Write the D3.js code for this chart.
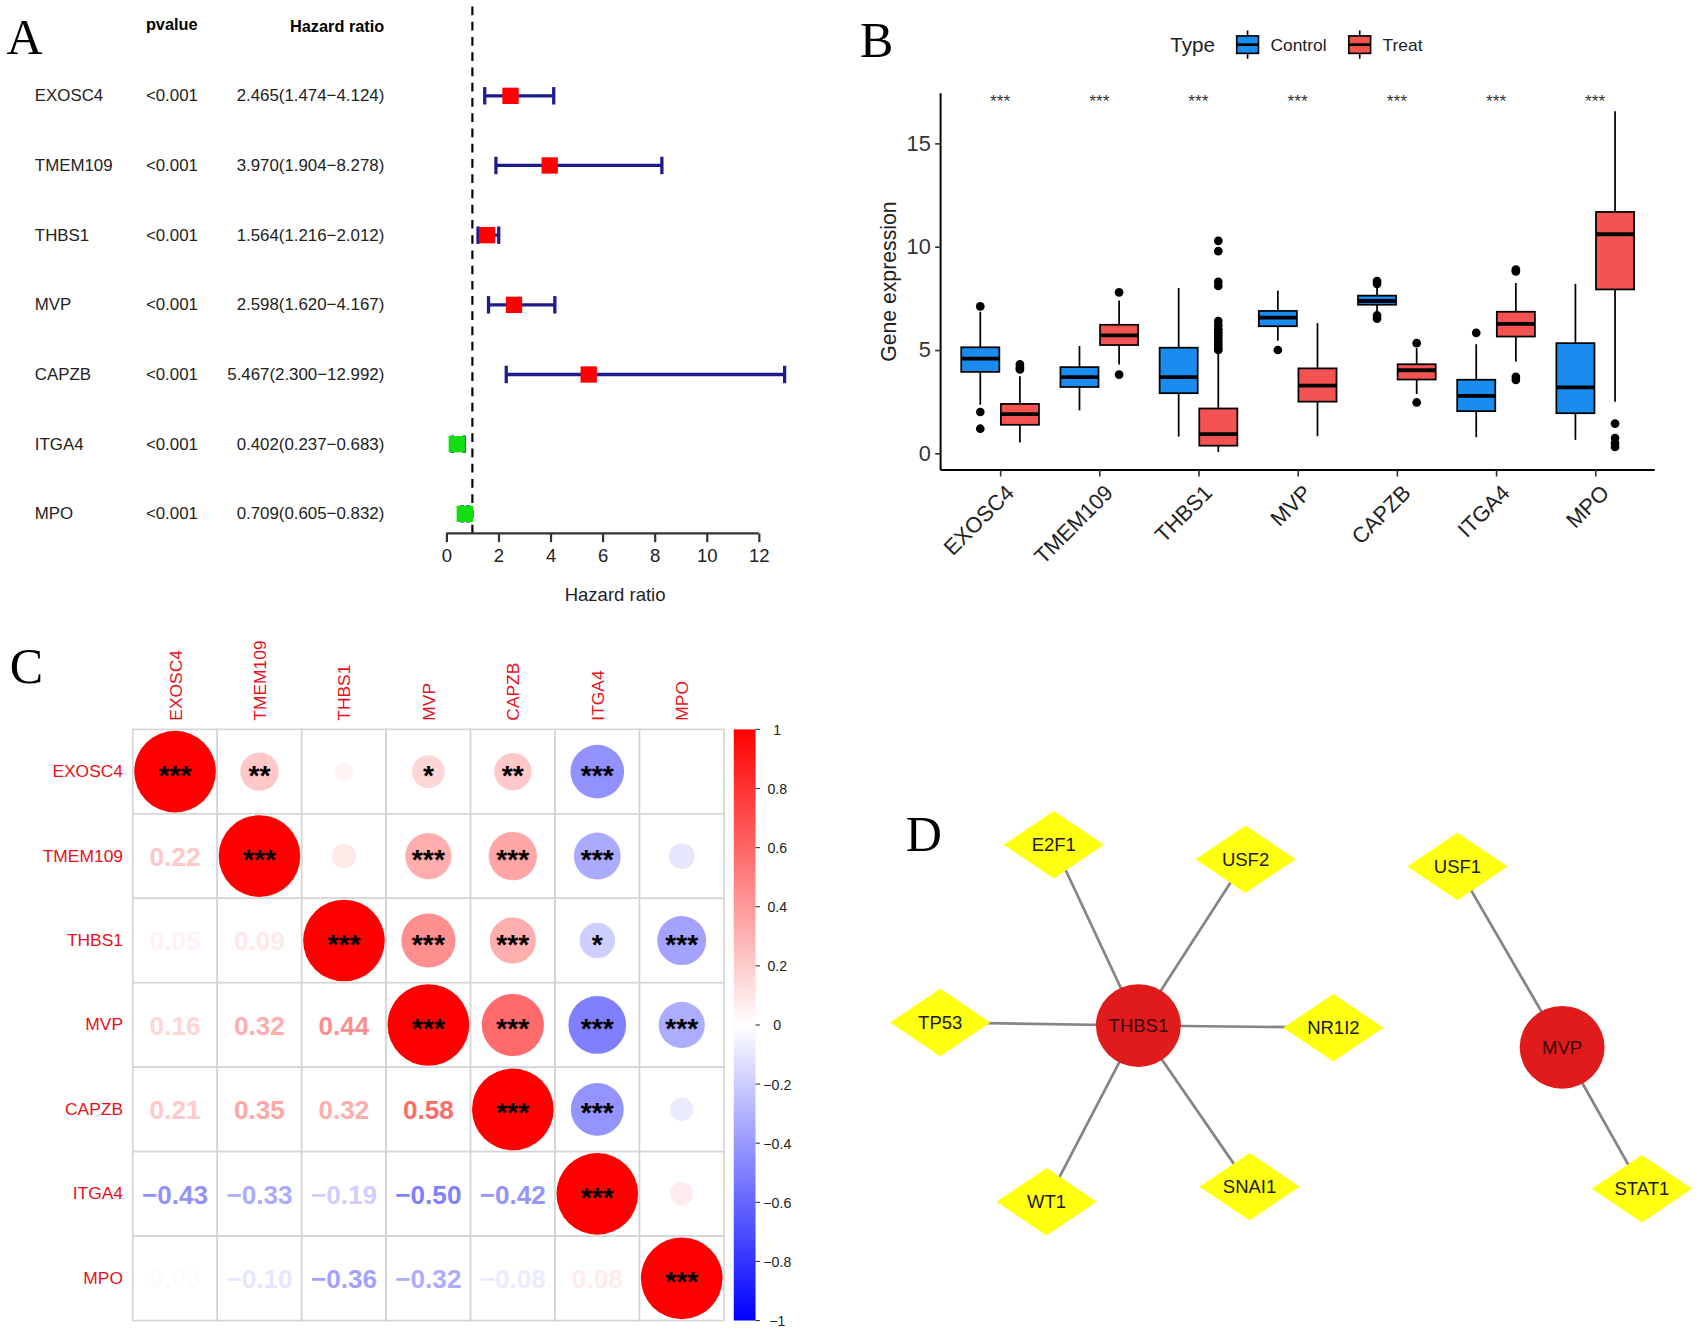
<!DOCTYPE html>
<html>
<head>
<meta charset="utf-8">
<script src="https://cdn.jsdelivr.net/npm/d3@7"></script>
<style>
  body { margin: 0; background: #fff; }
  svg { display: block; font-family: "Liberation Sans", Arial, sans-serif; }
</style>
</head>
<body>
<div id="chart"></div>
<script>
// ---- data ----
const genes = ["EXOSC4", "TMEM109", "THBS1", "MVP", "CAPZB", "ITGA4", "MPO"];
const pvalues = ["<0.001", "<0.001", "<0.001", "<0.001", "<0.001", "<0.001", "<0.001"];
const hr = [2.465, 3.970, 1.564, 2.598, 5.467, 0.402, 0.709];
const hrLow = [1.474, 1.904, 1.216, 1.620, 2.300, 0.237, 0.605];
const hrHigh = [4.124, 8.278, 2.012, 4.167, 12.992, 0.683, 0.832];
const hrTicks = [0, 2, 4, 6, 8, 10, 12];

// box stats: [lower whisker, q1, median, q3, upper whisker]
const controlStats = [
  [2.35, 3.94, 4.58, 5.13, 6.85],
  [2.08, 3.21, 3.69, 4.17, 5.19],
  [0.81, 2.91, 3.69, 5.11, 8.00],
  [5.45, 6.15, 6.57, 6.89, 7.87],
  [6.85, 7.19, 7.37, 7.63, 8.00],
  [0.78, 2.04, 2.78, 3.56, 5.28],
  [0.65, 1.94, 3.19, 5.33, 8.20]
];
const treatStats = [
  [0.52, 1.38, 1.90, 2.39, 3.73],
  [4.30, 5.24, 5.71, 6.22, 7.39],
  [0.06, 0.37, 0.93, 2.17, 4.85],
  [0.83, 2.50, 3.28, 4.11, 6.30],
  [2.87, 3.57, 4.02, 4.31, 5.09],
  [4.44, 5.65, 6.26, 6.85, 8.24],
  [2.50, 7.93, 10.60, 11.68, 16.55]
];
const controlOutliers = [[7.11, 2.00, 1.19], [], [], [5.00], [8.33, 8.20, 6.67, 6.52], [5.83], []];
const treatOutliers = [
  [4.30, 4.15, 4.06], [7.79, 3.81],
  [5.00, 5.10, 5.25, 5.40, 5.55, 5.70, 5.85, 6.00, 6.20, 6.40, 8.10, 8.30, 9.78, 10.28],
  [], [5.33, 2.46], [8.89, 8.80, 3.70, 3.55], [1.44, 0.74, 0.50, 0.31]
];
const exprTicks = [0, 5, 10, 15];
const groups = ["Control", "Treat"];

// correlation matrix (rows/cols = genes)
const corr = [
  [1.00, 0.22, 0.05, 0.16, 0.21, -0.43, 0.00],
  [0.22, 1.00, 0.09, 0.32, 0.35, -0.33, -0.10],
  [0.05, 0.09, 1.00, 0.44, 0.32, -0.19, -0.36],
  [0.16, 0.32, 0.44, 1.00, 0.58, -0.50, -0.32],
  [0.21, 0.35, 0.32, 0.58, 1.00, -0.42, -0.08],
  [-0.43, -0.33, -0.19, -0.50, -0.42, 1.00, 0.08],
  [0.00, -0.10, -0.36, -0.32, -0.08, 0.08, 1.00]
];
const stars = [
  ["***", "**", "", "*", "**", "***", ""],
  ["", "***", "", "***", "***", "***", ""],
  ["", "", "***", "***", "***", "*", "***"],
  ["", "", "", "***", "***", "***", "***"],
  ["", "", "", "", "***", "***", ""],
  ["", "", "", "", "", "***", ""],
  ["", "", "", "", "", "", "***"]
];
const colorbarTicks = [-1, -0.8, -0.6, -0.4, -0.2, 0, 0.2, 0.4, 0.6, 0.8, 1];

// network (layout units 0-100)
const netNodes = ["THBS1", "MVP", "E2F1", "USF2", "USF1", "TP53", "NR1I2", "WT1", "SNAI1", "STAT1"];
const netHubs = ["THBS1", "MVP"];
const netX = [30.5, 83.1, 20.0, 43.8, 70.1, 5.9, 54.7, 19.1, 44.3, 93.0];
const netY = [50.5, 55.5, 9.0, 12.3, 14.0, 49.8, 51.0, 91.0, 87.5, 88.0];
const netEdges = [["THBS1", "E2F1"], ["THBS1", "USF2"], ["THBS1", "TP53"], ["THBS1", "NR1I2"],
                  ["THBS1", "WT1"], ["THBS1", "SNAI1"], ["MVP", "USF1"], ["MVP", "STAT1"]];

// ---- svg ----
const svg = d3.select("#chart").append("svg")
  .attr("width", 1707).attr("height", 1336)
  .attr("viewBox", "0 0 1568 1227.2");

// panel letters
const letters = [["A", 6, 50], ["B", 790, 52], ["C", 9, 627], ["D", 832, 782]];
svg.selectAll(".letter").data(letters).enter().append("text")
  .attr("x", d => d[1]).attr("y", d => d[2])
  .style("font-family", "'Liberation Serif', 'Times New Roman', serif")
  .style("font-size", "46px").text(d => d[0]);

// ================= A: forest plot =================
const xA = d3.scaleLinear().domain([0, 12]).range([410, 697]);
const yA = d3.scalePoint().domain(genes).range([88, 472]);
const A = svg.append("g");

A.append("text").attr("x", 134).attr("y", 28).style("font-weight", "bold").style("font-size", "15px").text("pvalue");
A.append("text").attr("x", 353).attr("y", 29).attr("text-anchor", "end").style("font-weight", "bold").style("font-size", "15px").text("Hazard ratio");

genes.forEach((g, i) => {
  const y = yA(g) + 5;
  A.append("text").attr("x", 32).attr("y", y).style("font-size", "15.5px").attr("fill", "#222").text(g);
  A.append("text").attr("x", 134).attr("y", y).style("font-size", "15.5px").attr("fill", "#222").text(pvalues[i]);
  A.append("text").attr("x", 353).attr("y", y).attr("text-anchor", "end").style("font-size", "15.5px").attr("fill", "#222")
    .text(hr[i].toFixed(3) + "(" + hrLow[i].toFixed(3) + "\u2212" + hrHigh[i].toFixed(3) + ")");
});

A.append("line").attr("x1", xA(1)).attr("x2", xA(1)).attr("y1", 6).attr("y2", 490)
  .attr("stroke", "#000").attr("stroke-width", 2).attr("stroke-dasharray", "8,6");

const errCol = "#1c1c8c";
genes.forEach((g, i) => {
  const y = yA(g);
  A.append("line").attr("x1", xA(hrLow[i])).attr("x2", xA(hrHigh[i])).attr("y1", y).attr("y2", y)
    .attr("stroke", errCol).attr("stroke-width", 3);
  [hrLow[i], hrHigh[i]].forEach(v => {
    A.append("line").attr("x1", xA(v)).attr("x2", xA(v)).attr("y1", y - 8).attr("y2", y + 8)
      .attr("stroke", errCol).attr("stroke-width", 3);
  });
  A.append("rect").attr("x", xA(hr[i]) - 7.5).attr("y", y - 7.5).attr("width", 15).attr("height", 15)
    .attr("fill", hr[i] > 1 ? "#ff0000" : "#11dd11");
});

const axA = A.append("g").attr("transform", "translate(0,490)")
  .call(d3.axisBottom(xA).tickValues(hrTicks).tickSize(8).tickPadding(6));
axA.select(".domain").attr("stroke", "#333").attr("stroke-width", 2).attr("d", "M" + xA(0) + ",0H" + xA(12));
axA.selectAll(".tick line").attr("stroke", "#333").attr("stroke-width", 2);
axA.selectAll(".tick text").style("font-size", "17px").attr("fill", "#222").style("font-family", "'Liberation Sans', Arial, sans-serif");
A.append("text").attr("x", 565).attr("y", 552).attr("text-anchor", "middle").style("font-size", "17px").attr("fill", "#222").text("Hazard ratio");

// ================= B: boxplot =================
const xB = d3.scalePoint().domain(genes).range([864, 1520]).padding(0.6);
const yB = d3.scaleLinear().domain([-0.806, 17.42]).range([431.7, 85.7]);
const fillB = d3.scaleOrdinal().domain(groups).range(["#1a8cf0", "#f55252"]);
const B = svg.append("g");
const dodge = 18.2, boxW = 35;

function drawBox(cx, s, outl, fill) {
  B.append("line").attr("x1", cx).attr("x2", cx).attr("y1", yB(s[0])).attr("y2", yB(s[4]))
    .attr("stroke", "#000").attr("stroke-width", 1.6);
  B.append("rect").attr("x", cx - boxW / 2).attr("y", yB(s[3])).attr("width", boxW)
    .attr("height", yB(s[1]) - yB(s[3])).attr("fill", fill).attr("stroke", "#000").attr("stroke-width", 1.6);
  B.append("line").attr("x1", cx - boxW / 2).attr("x2", cx + boxW / 2).attr("y1", yB(s[2])).attr("y2", yB(s[2]))
    .attr("stroke", "#000").attr("stroke-width", 3.5);
  outl.forEach(v => {
    B.append("circle").attr("cx", cx).attr("cy", yB(v)).attr("r", 4).attr("fill", "#000");
  });
}
genes.forEach((g, i) => {
  drawBox(xB(g) - dodge, controlStats[i], controlOutliers[i], fillB("Control"));
  drawBox(xB(g) + dodge, treatStats[i], treatOutliers[i], fillB("Treat"));
  B.append("text").attr("x", xB(g)).attr("y", 98).attr("text-anchor", "middle")
    .style("font-size", "16px").attr("fill", "#333").text("***");
});

const ayB = B.append("g").attr("transform", "translate(864,0)")
  .call(d3.axisLeft(yB).tickValues(exprTicks).tickSize(5).tickPadding(4));
ayB.select(".domain").attr("stroke", "#000").attr("stroke-width", 1.8).attr("d", "M0," + yB.range()[0] + "V" + yB.range()[1]);
ayB.selectAll(".tick line").attr("stroke", "#333").attr("stroke-width", 1.5);
ayB.selectAll(".tick text").style("font-size", "20px").attr("fill", "#333").style("font-family", "'Liberation Sans', Arial, sans-serif");

const axB = B.append("g").attr("transform", "translate(0,431.7)")
  .call(d3.axisBottom(xB).tickSize(6).tickFormat(""));
axB.select(".domain").attr("stroke", "#000").attr("stroke-width", 1.8).attr("d", "M864,0H1520");
axB.selectAll(".tick line").attr("stroke", "#333").attr("stroke-width", 1.5);
genes.forEach(g => {
  B.append("text").attr("transform", "translate(" + (xB(g) + 4) + ",444) rotate(-45)")
    .attr("text-anchor", "end").attr("dy", "0.7em").style("font-size", "20px").attr("fill", "#222").text(g);
});
B.append("text").attr("transform", "translate(823,258.7) rotate(-90)").attr("text-anchor", "middle")
  .style("font-size", "19.5px").attr("fill", "#222").text("Gene expression");

// legend
B.append("text").attr("x", 1075).attr("y", 48).style("font-size", "19px").attr("fill", "#222").text("Type");
const legX = [1136, 1239];
groups.forEach((grp, k) => {
  const lx = legX[k];
  B.append("line").attr("x1", lx + 10).attr("x2", lx + 10).attr("y1", 28).attr("y2", 54).attr("stroke", "#000").attr("stroke-width", 1.5);
  B.append("rect").attr("x", lx).attr("y", 33).attr("width", 20).attr("height", 16).attr("fill", fillB(grp)).attr("stroke", "#000").attr("stroke-width", 1.5);
  B.append("line").attr("x1", lx).attr("x2", lx + 20).attr("y1", 41).attr("y2", 41).attr("stroke", "#000").attr("stroke-width", 2.5);
  B.append("text").attr("x", lx + 31).attr("y", 47).style("font-size", "16px").attr("fill", "#222").text(grp);
});

// ================= C: correlation plot =================
const gx = d3.scaleBand().domain(genes).range([122, 665]);
const gy = d3.scaleBand().domain(genes).range([670, 1213]);
const colC = d3.scaleLinear().domain([-1, 0, 1]).range(["#0000ff", "#ffffff", "#ff0000"]);
const rC = d3.scaleSqrt().domain([0, 1]).range([0, 37.5]);
const C = svg.append("g");

genes.forEach((rg, i) => {
  genes.forEach((cg, j) => {
    C.append("rect").attr("x", gx(cg)).attr("y", gy(rg)).attr("width", gx.bandwidth()).attr("height", gy.bandwidth())
      .attr("fill", "#fff").attr("stroke", "#d4d4d4").attr("stroke-width", 1.5);
  });
});
genes.forEach((rg, i) => {
  genes.forEach((cg, j) => {
    const cx = gx(cg) + gx.bandwidth() / 2, cy = gy(rg) + gy.bandwidth() / 2;
    const v = corr[i][j];
    if (j >= i) {
      C.append("circle").attr("cx", cx).attr("cy", cy).attr("r", rC(Math.abs(v))).attr("fill", colC(v));
      if (stars[i][j]) {
        C.append("text").attr("x", cx).attr("y", cy + 12).attr("text-anchor", "middle")
          .style("font-size", "26px").style("font-weight", "bold").attr("fill", "#000").text(stars[i][j]);
      }
    } else {
      C.append("text").attr("x", cx).attr("y", cy + 9).attr("text-anchor", "middle")
        .style("font-size", "24px").style("font-weight", "bold").attr("fill", v === 0 ? "#fbfbfd" : colC(v))
        .text(v.toFixed(2).replace("-", "\u2212"));
    }
  });
});
genes.forEach(g => {
  C.append("text").attr("x", 113).attr("y", gy(g) + gy.bandwidth() / 2 + 5).attr("text-anchor", "end")
    .style("font-size", "16px").attr("fill", "#e8101a").text(g);
  C.append("text").attr("transform", "translate(" + (gx(g) + gx.bandwidth() / 2 + 6) + ",662) rotate(-90)")
    .style("font-size", "16px").attr("fill", "#e8101a").text(g);
});

// colorbar
const cbY = d3.scaleLinear().domain([-1, 1]).range([1213, 670]);
const grad = svg.append("defs").append("linearGradient").attr("id", "cbgrad")
  .attr("x1", 0).attr("x2", 0).attr("y1", 1).attr("y2", 0);
[-1, 0, 1].forEach(v => grad.append("stop").attr("offset", (v + 1) / 2).attr("stop-color", colC(v)));
C.append("rect").attr("x", 674).attr("y", 670).attr("width", 20).attr("height", 543).attr("fill", "url(#cbgrad)");
colorbarTicks.forEach(t => {
  C.append("line").attr("x1", 694).attr("x2", 698).attr("y1", cbY(t)).attr("y2", cbY(t)).attr("stroke", "#333").attr("stroke-width", 1);
  C.append("text").attr("x", 714).attr("y", cbY(t) + 5).attr("text-anchor", "middle")
    .style("font-size", "13px").attr("fill", "#222").text(String(t).replace("-", "\u2212"));
});

// ================= D: network =================
const xD = d3.scaleLinear().domain([0, 100]).range([820, 1560]);
const yD = d3.scaleLinear().domain([0, 100]).range([740, 1140]);
const pos = {};
netNodes.forEach((n, i) => { pos[n] = [xD(netX[i]), yD(netY[i])]; });
const D = svg.append("g");
netEdges.forEach(e => {
  D.append("line").attr("x1", pos[e[0]][0]).attr("y1", pos[e[0]][1]).attr("x2", pos[e[1]][0]).attr("y2", pos[e[1]][1])
    .attr("stroke", "#858585").attr("stroke-width", 2.5);
});
netNodes.forEach(n => {
  const [x, y] = pos[n];
  if (netHubs.includes(n)) {
    D.append("ellipse").attr("cx", x).attr("cy", y).attr("rx", 39).attr("ry", 38).attr("fill", "#e01b1b");
    D.append("text").attr("x", x).attr("y", y + 6).attr("text-anchor", "middle").style("font-size", "17px").attr("fill", "#3a0808").text(n);
  } else {
    D.append("path").attr("d", `M${x - 46},${y}L${x},${y - 31}L${x + 46},${y}L${x},${y + 31}Z`).attr("fill", "#ffff10");
    D.append("text").attr("x", x).attr("y", y + 6).attr("text-anchor", "middle").style("font-size", "17px").attr("fill", "#1a1a1a").text(n);
  }
});
</script>
</body>
</html>
